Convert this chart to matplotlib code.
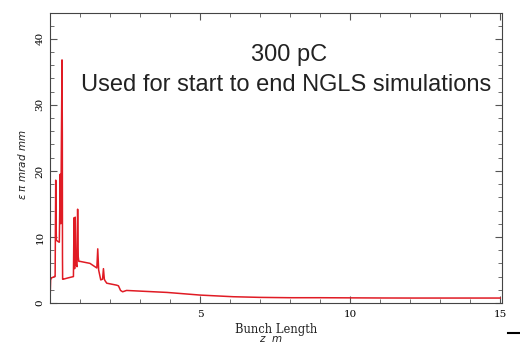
import matplotlib
matplotlib.use('Agg')
import matplotlib.pyplot as plt
from matplotlib.lines import Line2D

# bunch length (z, m) vs emittance
z = [0.0, 0.02, 0.05, 0.15, 0.17, 0.19, 0.20, 0.21, 0.27, 0.31, 0.34, 0.36, 0.38, 0.40, 0.41,
     0.415, 0.42, 0.44, 0.60, 0.78, 0.80, 0.82, 0.84, 0.86, 0.90, 0.92, 0.94, 0.96, 1.00,
     1.33, 1.56, 1.59, 1.62, 1.69, 1.75, 1.78, 1.81, 1.83, 1.89, 2.00, 2.22, 2.28, 2.35,
     2.42, 2.55, 3.0, 3.9, 5.0, 6.1, 7.0, 8.0, 9.0, 10.0, 11.0, 12.0, 13.0, 14.0, 15.0]
emit = [0.3, 3.5, 3.8, 4.0, 4.0, 18.6, 14.0, 9.5, 9.3, 9.2, 19.5, 12.0, 25.4, 36.8, 25.4,
        7.0, 3.6, 3.6, 3.8, 4.0, 12.9, 5.2, 13.0, 6.0, 5.5, 14.2, 7.0, 6.3, 6.3,
        6.0, 5.3, 8.2, 5.0, 3.5, 3.6, 5.2, 3.6, 3.4, 3.0, 2.9, 2.7, 2.6, 1.9,
        1.7, 1.9, 1.8, 1.6, 1.2, 0.95, 0.85, 0.8, 0.8, 0.78, 0.76, 0.75, 0.75, 0.75, 0.75]

xticks = [5, 10, 15]
yticks = [0, 10, 20, 30, 40]

fig = plt.figure(figsize=(5.2, 3.47), dpi=100)
ax = fig.add_axes([0.0962, 0.1268, 0.8686, 0.8357])

ax.plot(z, emit, color='#e01b24', linewidth=1.1)

ax.set_xlim(0, 15.05)
ax.set_ylim(0, 43.9)
ax.set_xticks(xticks)
ax.set_xticks(range(1, 15), minor=True)
ax.set_yticks(yticks)
ax.set_yticks(range(0, 44, 2), minor=True)
ax.tick_params(which='both', direction='in', top=True, right=True, color='#555555')
ax.tick_params(which='major', length=5, width=0.8)
ax.tick_params(which='minor', length=3, width=0.6)
for s in ax.spines.values():
    s.set_color('#444444')
    s.set_linewidth(0.8)

for lab in ax.get_xticklabels():
    lab.set_family('DejaVu Serif')
    lab.set_fontsize(7.5)
ax.tick_params(axis='x', pad=5)
for lab in ax.get_yticklabels():
    lab.set_family('DejaVu Serif')
    lab.set_fontsize(7.5)
    lab.set_rotation(90)
    lab.set_va('center')
ax.tick_params(axis='y', pad=4)

# axis labels
fig.text(0.042, 0.527, r'$\epsilon\ \pi\ mrad\ mm$', rotation=90, ha='center', va='center',
         fontsize=7.5, family='DejaVu Serif', color='#222222')
fig.text(0.531, 0.051, 'Bunch Length', ha='center', va='center', fontsize=8.3,
         family='DejaVu Serif', color='#222222')
fig.text(0.52, 0.022, r'$z\ \ m$', ha='center', va='center', fontsize=7.5, color='#222222')

# annotation text
ax.text(0.529, 0.855, '300 pC', transform=ax.transAxes, ha='center', va='center',
        fontsize=17, family='Liberation Sans', color='#222222')
ax.text(0.522, 0.752, 'Used for start to end NGLS simulations', transform=ax.transAxes,
        ha='center', va='center', fontsize=17, family='Liberation Sans', color='#222222')

fig.add_artist(Line2D([0.977, 1.0], [0.040, 0.040], transform=fig.transFigure,
                      color='black', linewidth=1.5))

fig.savefig('out.png', dpi=100)
